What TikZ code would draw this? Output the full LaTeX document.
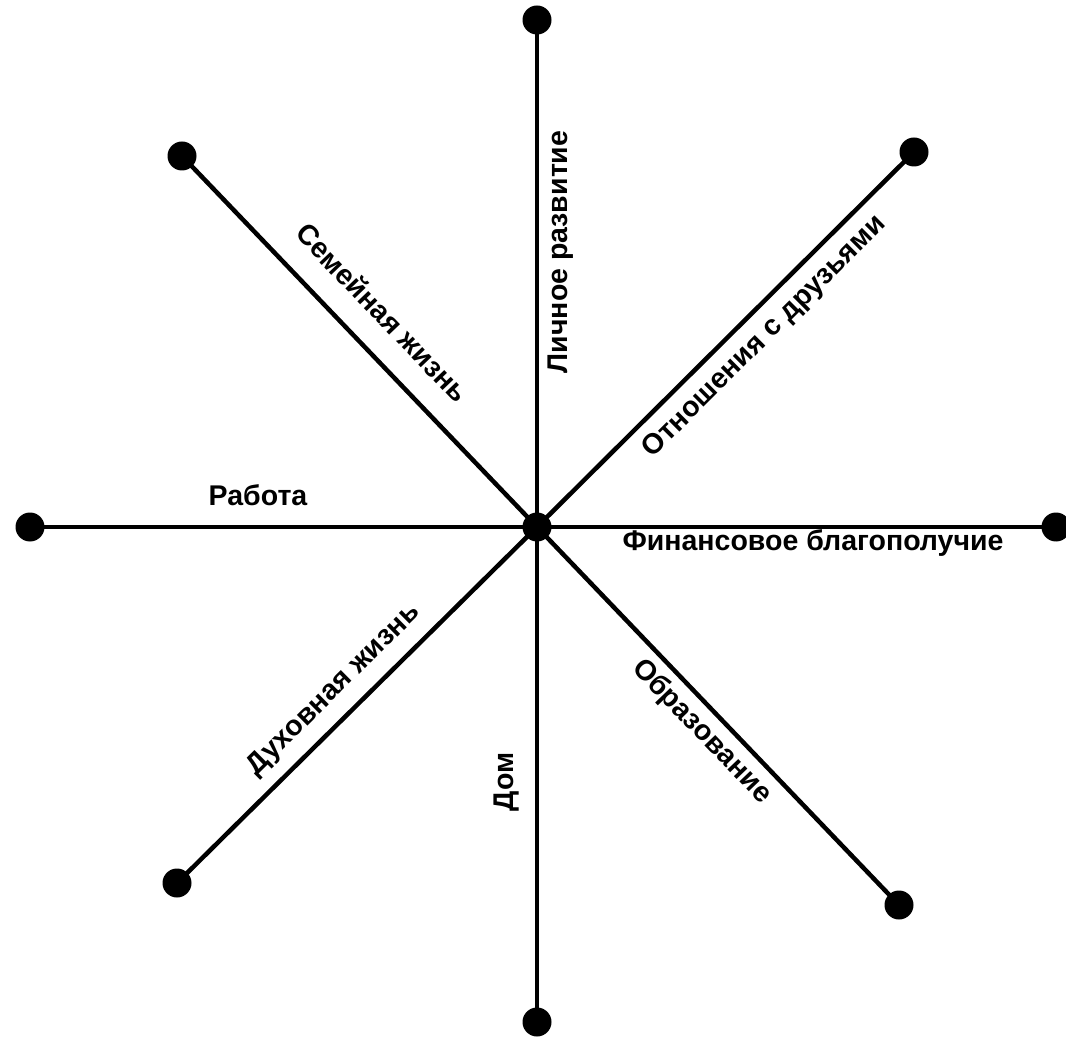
\documentclass[tikz,border=0pt]{standalone}
\usepackage{fontspec}
\setmainfont{Liberation Sans}
\usetikzlibrary{positioning}
\tikzset{
  spoke/.style={line width=4.5pt,black},
  vtx/.style={circle,fill=black,inner sep=0pt,minimum size=29pt},
  alab/.style={font=\fontsize{28.5}{34}\selectfont\bfseries,inner sep=0pt,text height=0.72em,text depth=0.2em}
}
\begin{document}
\begin{tikzpicture}[x=1pt,y=-1pt]
  \useasboundingbox[fill=white] (0,0) rectangle (1066,1040);
  % centre and end points
  \node[vtx] (c) at (537,527) {};
  \node[vtx] (t) at (537,20) {};   \node[vtx] (b) at (537,1022) {};
  \node[vtx] (l) at (30,527) {};   \node[vtx] (r) at (1056,527) {};
  \node[vtx] (tl) at (182,156) {}; \node[vtx] (tr) at (914,152) {};
  \node[vtx] (bl) at (177,883) {}; \node[vtx] (br) at (899,905) {};
  \foreach \e in {t,b,l,r,tl,tr,bl,br}
    \draw[spoke] (c.center) -- (\e.center);
  % labels
  \node[alab,rotate=90] (lr) at (565,252) {Личное развитие};
  \node[alab,rotate=-46.3] (sz) at (377,318) {Семейная жизнь};
  \node[alab,rotate=44.9] (od) at (768,340) {Отношения с друзьями};
  \node[alab] (rb) at (258,503) {Работа};
  \node[alab] (fb) at (813,548) {Финансовое благополучие};
  \node[alab,rotate=44.7] (dz) at (337,693) {Духовная жизнь};
  \node[alab,rotate=90] (dm) at (511,782) {Дом};
  \node[alab,rotate=-46.2] (ob) at (698,735) {Образование};
\end{tikzpicture}
\end{document}
